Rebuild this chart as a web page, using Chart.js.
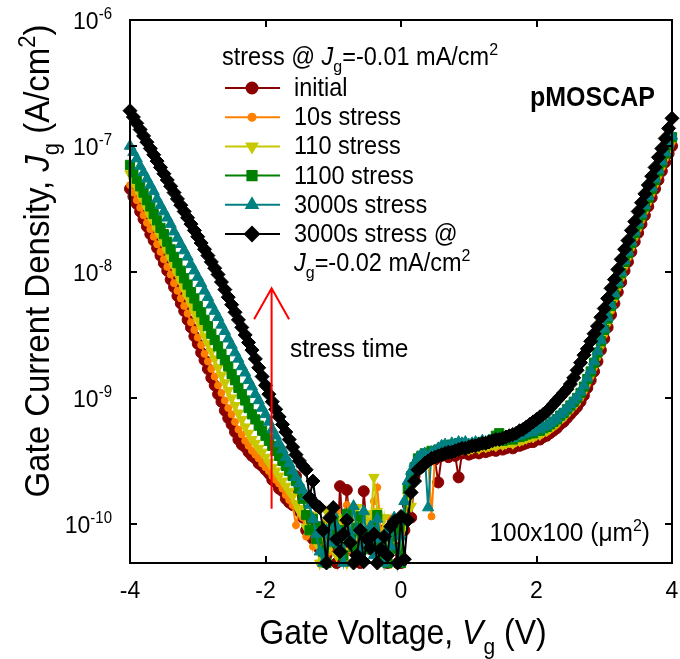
<!DOCTYPE html>
<html>
<head>
<meta charset="utf-8">
<script src="https://cdn.jsdelivr.net/npm/chart.js@4.4.0/dist/chart.umd.min.js"></script>
<style>
  html, body { margin: 0; padding: 0; background: #fff; }
</style>
</head>
<body>
<canvas id="jgChart" width="680" height="659"></canvas>
<script>
// gate voltage (V), same for every sweep
const voltage = [
  -4,-3.95,-3.9,-3.85,-3.8,-3.75,-3.7,-3.65,-3.6,-3.55,
  -3.5,-3.45,-3.4,-3.35,-3.3,-3.25,-3.2,-3.15,-3.1,-3.05,
  -3,-2.95,-2.9,-2.85,-2.8,-2.75,-2.7,-2.65,-2.6,-2.55,
  -2.5,-2.45,-2.4,-2.35,-2.3,-2.25,-2.2,-2.15,-2.1,-2.05,
  -2,-1.95,-1.9,-1.85,-1.8,-1.75,-1.7,-1.65,-1.6,-1.55,
  -1.5,-1.45,-1.4,-1.35,-1.3,-1.25,-1.2,-1.15,-1.1,-1.05,
  -1,-0.95,-0.9,-0.85,-0.8,-0.75,-0.7,-0.65,-0.6,-0.55,
  -0.5,-0.45,-0.4,-0.35,-0.3,-0.25,-0.2,-0.15,-0.1,-0.05,
  0,0.05,0.1,0.15,0.2,0.25,0.3,0.35,0.4,0.45,
  0.5,0.55,0.6,0.65,0.7,0.75,0.8,0.85,0.9,0.95,
  1,1.05,1.1,1.15,1.2,1.25,1.3,1.35,1.4,1.45,
  1.5,1.55,1.6,1.65,1.7,1.75,1.8,1.85,1.9,1.95,
  2,2.05,2.1,2.15,2.2,2.25,2.3,2.35,2.4,2.45,
  2.5,2.55,2.6,2.65,2.7,2.75,2.8,2.85,2.9,2.95,
  3,3.05,3.1,3.15,3.2,3.25,3.3,3.35,3.4,3.45,
  3.5,3.55,3.6,3.65,3.7,3.75,3.8,3.85,3.9,3.95,
  4
];

// log10 of Jg (A/cm2), one list per sweep
const initialLog = [
  -7.34,-7.40,-7.46,-7.52,-7.58,-7.64,-7.70,-7.75,-7.81,-7.87,
  -7.93,-7.99,-8.06,-8.12,-8.19,-8.25,-8.31,-8.38,-8.44,-8.51,
  -8.57,-8.64,-8.70,-8.77,-8.84,-8.90,-8.97,-9.03,-9.10,-9.16,
  -9.21,-9.27,-9.33,-9.37,-9.39,-9.43,-9.46,-9.48,-9.52,-9.54,
  -9.57,-9.60,-9.65,-9.67,-9.72,-9.74,-9.80,-9.83,-9.85,-9.62,
  -9.90,-9.95,-10.05,-9.98,-10.12,-10.02,-10.20,-10.08,-10.25,-10.10,
  -10.18,-10.31,-9.70,-10.15,-9.73,-10.05,-10.22,-10.12,-10.31,-9.74,
  -10.08,-10.20,-9.98,-10.15,-10.25,-10.05,-10.31,-10.02,-10.18,-10.31,
  -10.31,-10.05,-9.85,-9.95,-9.62,-9.52,-9.55,-9.48,-9.50,-9.47,
  -9.49,-9.67,-9.46,-9.45,-9.47,-9.44,-9.46,-9.63,-9.44,-9.43,
  -9.45,-9.44,-9.43,-9.44,-9.42,-9.43,-9.42,-9.41,-9.42,-9.40,
  -9.41,-9.40,-9.39,-9.40,-9.38,-9.38,-9.37,-9.36,-9.35,-9.35,
  -9.33,-9.33,-9.31,-9.30,-9.28,-9.26,-9.24,-9.21,-9.19,-9.16,
  -9.13,-9.10,-9.07,-9.03,-8.98,-8.92,-8.86,-8.79,-8.71,-8.62,
  -8.53,-8.44,-8.34,-8.25,-8.16,-8.08,-7.99,-7.92,-7.84,-7.76,
  -7.69,-7.62,-7.55,-7.48,-7.41,-7.34,-7.27,-7.20,-7.13,-7.06,
  -7.00
];
const stress10sLog = [
  -7.31,-7.37,-7.43,-7.49,-7.55,-7.61,-7.66,-7.72,-7.78,-7.84,
  -7.90,-7.96,-8.02,-8.09,-8.15,-8.21,-8.27,-8.33,-8.40,-8.46,
  -8.52,-8.58,-8.65,-8.71,-8.77,-8.83,-8.90,-8.96,-9.02,-9.08,
  -9.13,-9.19,-9.25,-9.29,-9.34,-9.38,-9.42,-9.45,-9.48,-9.52,
  -9.55,-9.58,-9.62,-9.65,-9.68,-9.72,-9.77,-9.81,-9.85,-10.01,
  -9.88,-9.95,-10.10,-9.92,-10.18,-10.04,-10.31,-10.12,-9.97,-10.22,
  -10.08,-9.90,-10.15,-10.03,-9.85,-10.20,-10.06,-9.95,-10.28,-10.10,
  -9.98,-10.15,-9.82,-9.71,-10.05,-10.31,-10.12,-9.96,-10.20,-10.05,
  -10.31,-9.98,-9.80,-9.72,-9.60,-9.53,-9.50,-9.52,-9.47,-9.94,
  -9.48,-9.45,-9.44,-9.43,-9.45,-9.42,-9.43,-9.41,-9.42,-9.41,
  -9.42,-9.41,-9.40,-9.41,-9.39,-9.40,-9.39,-9.38,-9.39,-9.37,
  -9.38,-9.37,-9.36,-9.37,-9.35,-9.35,-9.34,-9.33,-9.32,-9.32,
  -9.30,-9.30,-9.28,-9.27,-9.25,-9.23,-9.21,-9.18,-9.16,-9.13,
  -9.10,-9.07,-9.04,-9.00,-8.95,-8.89,-8.83,-8.76,-8.68,-8.59,
  -8.50,-8.41,-8.31,-8.22,-8.13,-8.05,-7.96,-7.89,-7.81,-7.73,
  -7.66,-7.59,-7.52,-7.45,-7.38,-7.31,-7.24,-7.17,-7.10,-7.03,
  -6.97
];
const stress110Log = [
  -7.22,-7.28,-7.33,-7.39,-7.44,-7.50,-7.56,-7.61,-7.67,-7.72,
  -7.78,-7.84,-7.90,-7.96,-8.02,-8.08,-8.14,-8.20,-8.26,-8.32,
  -8.38,-8.44,-8.51,-8.57,-8.63,-8.69,-8.76,-8.82,-8.88,-8.94,
  -9.00,-9.06,-9.12,-9.17,-9.23,-9.28,-9.33,-9.36,-9.40,-9.43,
  -9.47,-9.51,-9.55,-9.58,-9.62,-9.66,-9.70,-9.74,-9.78,-9.84,
  -9.90,-9.88,-10.03,-10.05,-9.93,-10.15,-10.31,-10.05,-9.90,-10.18,
  -10.02,-10.25,-9.95,-10.10,-10.31,-9.98,-10.12,-9.87,-10.20,-10.05,
  -9.92,-10.00,-9.63,-9.90,-10.15,-9.95,-10.22,-10.31,-10.08,-9.95,
  -10.25,-10.02,-9.78,-9.86,-9.58,-9.51,-9.49,-9.47,-9.52,-9.46,
  -9.45,-9.44,-9.42,-9.41,-9.43,-9.40,-9.42,-9.40,-9.41,-9.39,
  -9.41,-9.40,-9.39,-9.40,-9.38,-9.39,-9.38,-9.37,-9.38,-9.36,
  -9.37,-9.36,-9.35,-9.36,-9.34,-9.34,-9.33,-9.32,-9.31,-9.31,
  -9.29,-9.29,-9.27,-9.26,-9.24,-9.22,-9.20,-9.17,-9.15,-9.12,
  -9.09,-9.06,-9.03,-8.99,-8.94,-8.88,-8.82,-8.75,-8.67,-8.58,
  -8.49,-8.40,-8.30,-8.21,-8.12,-8.04,-7.95,-7.88,-7.80,-7.72,
  -7.65,-7.58,-7.51,-7.44,-7.37,-7.30,-7.23,-7.16,-7.09,-7.02,
  -6.96
];
const stress1100Log = [
  -7.15,-7.21,-7.26,-7.32,-7.37,-7.43,-7.48,-7.54,-7.59,-7.65,
  -7.70,-7.76,-7.82,-7.88,-7.93,-7.99,-8.05,-8.10,-8.16,-8.21,
  -8.27,-8.32,-8.38,-8.43,-8.49,-8.54,-8.59,-8.65,-8.70,-8.75,
  -8.81,-8.86,-8.92,-8.97,-9.02,-9.08,-9.13,-9.17,-9.22,-9.26,
  -9.30,-9.34,-9.38,-9.42,-9.46,-9.50,-9.54,-9.58,-9.62,-9.66,
  -9.72,-9.80,-9.93,-10.05,-9.96,-10.12,-10.02,-10.22,-10.31,-10.08,
  -9.98,-10.15,-10.05,-10.25,-9.92,-10.10,-10.18,-10.03,-9.94,-10.20,
  -10.08,-10.15,-10.02,-9.93,-10.18,-10.25,-10.31,-10.10,-10.20,-10.04,
  -10.31,-9.95,-9.72,-9.62,-9.55,-9.48,-9.46,-9.44,-9.45,-9.42,
  -9.43,-9.41,-9.40,-9.38,-9.40,-9.37,-9.39,-9.36,-9.38,-9.37,
  -9.38,-9.37,-9.36,-9.37,-9.35,-9.36,-9.35,-9.33,-9.30,-9.28,
  -9.34,-9.33,-9.32,-9.33,-9.31,-9.31,-9.30,-9.29,-9.28,-9.28,
  -9.26,-9.26,-9.24,-9.23,-9.21,-9.19,-9.17,-9.14,-9.12,-9.09,
  -9.06,-9.03,-9.00,-8.96,-8.91,-8.85,-8.79,-8.72,-8.64,-8.55,
  -8.46,-8.37,-8.27,-8.18,-8.09,-8.01,-7.92,-7.85,-7.77,-7.69,
  -7.62,-7.55,-7.48,-7.41,-7.34,-7.27,-7.20,-7.13,-7.06,-6.99,
  -6.93
];
const stress3000Log = [
  -7.00,-7.05,-7.10,-7.16,-7.21,-7.26,-7.31,-7.36,-7.42,-7.47,
  -7.52,-7.57,-7.62,-7.68,-7.73,-7.78,-7.83,-7.88,-7.94,-7.99,
  -8.04,-8.09,-8.15,-8.20,-8.26,-8.31,-8.36,-8.42,-8.47,-8.53,
  -8.58,-8.64,-8.69,-8.75,-8.80,-8.86,-8.91,-8.97,-9.02,-9.08,
  -9.13,-9.19,-9.25,-9.30,-9.36,-9.41,-9.47,-9.52,-9.58,-9.63,
  -9.68,-9.73,-9.78,-9.85,-9.96,-10.08,-10.22,-10.31,-10.05,-10.15,
  -9.92,-10.02,-10.18,-10.31,-9.95,-10.10,-9.86,-10.05,-10.22,-9.90,
  -10.15,-10.02,-10.25,-9.96,-10.12,-10.31,-10.05,-10.18,-9.95,-10.31,
  -10.10,-9.82,-9.66,-9.58,-9.52,-9.47,-9.45,-9.44,-9.87,-9.43,
  -9.42,-9.40,-9.38,-9.37,-9.39,-9.36,-9.37,-9.35,-9.36,-9.35,
  -9.37,-9.36,-9.35,-9.36,-9.34,-9.35,-9.34,-9.33,-9.34,-9.32,
  -9.33,-9.32,-9.31,-9.32,-9.30,-9.30,-9.29,-9.28,-9.27,-9.27,
  -9.25,-9.25,-9.23,-9.22,-9.20,-9.18,-9.16,-9.13,-9.11,-9.08,
  -9.05,-9.02,-8.99,-8.95,-8.90,-8.84,-8.78,-8.71,-8.63,-8.54,
  -8.45,-8.36,-8.26,-8.17,-8.08,-8.00,-7.91,-7.84,-7.76,-7.68,
  -7.61,-7.54,-7.47,-7.40,-7.33,-7.26,-7.19,-7.12,-7.05,-6.98,
  -6.92
];
const stress3000HighLog = [
  -6.72,-6.77,-6.82,-6.87,-6.92,-6.97,-7.02,-7.07,-7.12,-7.17,
  -7.22,-7.27,-7.32,-7.37,-7.42,-7.47,-7.52,-7.57,-7.62,-7.67,
  -7.72,-7.77,-7.82,-7.87,-7.92,-7.97,-8.02,-8.08,-8.14,-8.20,
  -8.26,-8.32,-8.38,-8.44,-8.50,-8.56,-8.62,-8.69,-8.76,-8.83,
  -8.90,-8.97,-9.03,-9.09,-9.15,-9.21,-9.27,-9.33,-9.39,-9.45,
  -9.50,-9.54,-9.57,-9.79,-9.66,-9.85,-9.87,-10.05,-10.31,-9.95,
  -9.87,-10.12,-10.22,-10.08,-9.97,-10.15,-10.31,-10.25,-10.05,-10.30,
  -10.12,-10.19,-10.08,-10.31,-10.20,-10.10,-10.25,-10.02,-9.98,-10.31,
  -9.94,-10.28,-9.97,-9.75,-9.66,-9.57,-9.55,-9.52,-9.50,-9.48,
  -9.47,-9.46,-9.45,-9.44,-9.43,-9.43,-9.42,-9.41,-9.40,-9.40,
  -9.39,-9.38,-9.38,-9.37,-9.36,-9.36,-9.35,-9.34,-9.33,-9.33,
  -9.32,-9.31,-9.30,-9.29,-9.28,-9.26,-9.25,-9.23,-9.21,-9.19,
  -9.17,-9.15,-9.13,-9.11,-9.08,-9.05,-9.02,-8.99,-8.96,-8.93,
  -8.89,-8.84,-8.78,-8.72,-8.66,-8.61,-8.55,-8.49,-8.43,-8.36,
  -8.29,-8.21,-8.13,-8.06,-7.98,-7.90,-7.82,-7.75,-7.67,-7.60,
  -7.52,-7.45,-7.38,-7.31,-7.24,-7.17,-7.09,-7.02,-6.94,-6.86,
  -6.78
];

const seriesLabels = ['initial', '10s stress', '110 stress', '1100 stress', '3000s stress', '3000s stress @'];
const seriesLogs = [initialLog, stress10sLog, stress110Log, stress1100Log, stress3000Log, stress3000HighLog];
const xTicks = [-4, -2, 0, 2, 4];
const yDecades = [-10, -9, -8, -7, -6];
const yMinLog = -10.31;

// marker look for each sweep
const seriesColors = ['#8b0000', '#ff8000', '#c8c800', '#008000', '#008080', '#000000'];
const seriesPoints = ['circle', 'circle', 'triangle', 'rect', 'triangle', 'rectRot'];
const seriesRadius = [5.5, 3.5, 6, 6.5, 6.5, 7];
const seriesRotation = [0, 0, 180, 0, 0, 0];

const FONT = '"Liberation Sans", Arial, Helvetica, sans-serif';
const STRETCH = 1.08; // the original lettering is a bit taller than Arial

// draw text made of pieces: [text, kind] where kind is '', 'i', 'sub', 'sup', 'b'
function richText(ctx, parts, x, y, size, align) {
    let fontFor = (k) => {
        if (k === 'sub' || k === 'sup') return Math.round(size * 0.66) + 'px ' + FONT;
        if (k === 'i') return 'italic ' + size + 'px ' + FONT;
        if (k === 'b') return 'bold ' + size + 'px ' + FONT;
        return size + 'px ' + FONT;
    };
    let total = 0;
    parts.forEach(p => { ctx.font = fontFor(p[1]); total += ctx.measureText(p[0]).width; });
    let cx = x;
    if (align === 'center') cx = x - total / 2;
    if (align === 'right') cx = x - total;
    ctx.textAlign = 'left';
    ctx.textBaseline = 'alphabetic';
    parts.forEach(p => {
        ctx.font = fontFor(p[1]);
        let dy = 0;
        if (p[1] === 'sub') dy = size * 0.3;
        if (p[1] === 'sup') dy = -size * 0.42;
        ctx.save();
        ctx.translate(cx, y + dy);
        ctx.scale(1, STRETCH);
        ctx.fillText(p[0], 0, 0);
        ctx.restore();
        cx += ctx.measureText(p[0]).width;
    });
}

function marker(ctx, i, x, y) {
    ctx.fillStyle = seriesColors[i];
    ctx.strokeStyle = seriesColors[i];
    Chart.helpers.drawPoint(ctx, {
        pointStyle: seriesPoints[i],
        rotation: seriesRotation[i],
        radius: seriesRadius[i],
        borderWidth: 1
    }, x, y);
}

// frame, inward ticks, labels, legend and notes
const decorPlugin = {
    id: 'decor',
    afterDatasetsDraw(chart) {
        const ctx = chart.ctx;
        const a = chart.chartArea;
        const xs = chart.scales.x, ys = chart.scales.y;
        ctx.save();
        ctx.strokeStyle = '#000';
        ctx.lineWidth = 2;
        ctx.strokeRect(a.left, a.top, a.right - a.left, a.bottom - a.top);
        ctx.beginPath();
        xTicks.forEach(v => {
            let px = Math.round(xs.getPixelForValue(v));
            ctx.moveTo(px, a.bottom); ctx.lineTo(px, a.bottom - 7);
            ctx.moveTo(px, a.top); ctx.lineTo(px, a.top + 7);
        });
        yDecades.forEach(d => {
            let py = Math.round(ys.getPixelForValue(Math.pow(10, d)));
            ctx.moveTo(a.left, py); ctx.lineTo(a.left + 7, py);
            ctx.moveTo(a.right, py); ctx.lineTo(a.right - 7, py);
        });
        ctx.stroke();
        ctx.restore();
    },
    afterDraw(chart) {
        const ctx = chart.ctx;
        const xs = chart.scales.x, ys = chart.scales.y;
        ctx.save();
        ctx.fillStyle = '#000';

        // tick labels
        xTicks.forEach(v => {
            richText(ctx, [[String(v), '']], xs.getPixelForValue(v), 598, 23, 'center');
        });
        yDecades.forEach(d => {
            let py = ys.getPixelForValue(Math.pow(10, d));
            richText(ctx, [['10', ''], [String(d), 'sup']], 112, py + 9, 23, 'right');
        });

        // axis titles
        richText(ctx, [['Gate Voltage, ', ''], ['V', 'i'], ['g', 'sub'], [' (V)', '']], 403, 644, 32, 'center');
        ctx.save();
        ctx.translate(49, 261);
        ctx.rotate(-Math.PI / 2);
        richText(ctx, [['Gate Current Density, ', ''], ['J', 'i'], ['g', 'sub'], [' (A/cm', ''], ['2', 'sup'], [')', '']], 0, 0, 33, 'center');
        ctx.restore();

        // legend
        ctx.fillStyle = '#000';
        richText(ctx, [['stress @ ', ''], ['J', 'i'], ['g', 'sub'], ['=-0.01 mA/cm', ''], ['2', 'sup']], 222, 65, 23.5, 'left');
        seriesLabels.forEach((lab, i) => {
            let ry = 88 + i * 29.2;
            ctx.strokeStyle = seriesColors[i];
            ctx.lineWidth = 2;
            ctx.beginPath();
            ctx.moveTo(225, ry); ctx.lineTo(280, ry);
            ctx.stroke();
            marker(ctx, i, 252, ry);
            ctx.fillStyle = '#000';
            richText(ctx, [[lab, '']], 294, ry + 8, 23.5, 'left');
        });
        richText(ctx, [['J', 'i'], ['g', 'sub'], ['=-0.02 mA/cm', ''], ['2', 'sup']], 294, 271, 23.5, 'left');

        // notes
        richText(ctx, [['pMOSCAP', 'b']], 655, 106, 25, 'right');
        richText(ctx, [['stress time', '']], 290, 357, 24.5, 'left');
        richText(ctx, [['100x100 (', ''], ['\u03bcm', ''], ['2', 'sup'], [')', '']], 650, 541, 24.5, 'right');

        // red arrow
        let ax = xs.getPixelForValue(-1.91);
        let ay0 = ys.getPixelForValue(Math.pow(10, -9.88));
        let ay1 = ys.getPixelForValue(Math.pow(10, -8.13));
        ctx.strokeStyle = '#ff0000';
        ctx.lineWidth = 2;
        ctx.beginPath();
        ctx.moveTo(ax, ay0); ctx.lineTo(ax, ay1);
        ctx.moveTo(ax - 17.5, ay1 + 31); ctx.lineTo(ax, ay1); ctx.lineTo(ax + 17.5, ay1 + 31);
        ctx.stroke();
        ctx.restore();
    }
};

let datasets = seriesLogs.map((logs, i) => ({
    label: seriesLabels[i],
    data: logs.map((v, k) => ({ x: voltage[k], y: Math.pow(10, v) })),
    borderColor: seriesColors[i],
    backgroundColor: seriesColors[i],
    pointBackgroundColor: seriesColors[i],
    pointBorderColor: seriesColors[i],
    pointStyle: seriesPoints[i],
    pointRadius: seriesRadius[i],
    pointRotation: seriesRotation[i],
    pointBorderWidth: 1,
    borderWidth: 2,
    tension: 0,
    clip: false,
    order: seriesLogs.length - i // last sweep drawn on top
}));

new Chart(document.getElementById('jgChart'), {
    type: 'line',
    data: { datasets: datasets },
    options: {
        responsive: false,
        animation: false,
        events: [],
        layout: { padding: { left: 130, top: 20, right: 6, bottom: 96 } },
        scales: {
            x: { type: 'linear', min: -4, max: 4, display: false },
            y: { type: 'logarithmic', min: Math.pow(10, yMinLog), max: 1e-6, display: false }
        },
        plugins: {
            legend: { display: false },
            tooltip: { enabled: false }
        }
    },
    plugins: [decorPlugin]
});
</script>
</body>
</html>
